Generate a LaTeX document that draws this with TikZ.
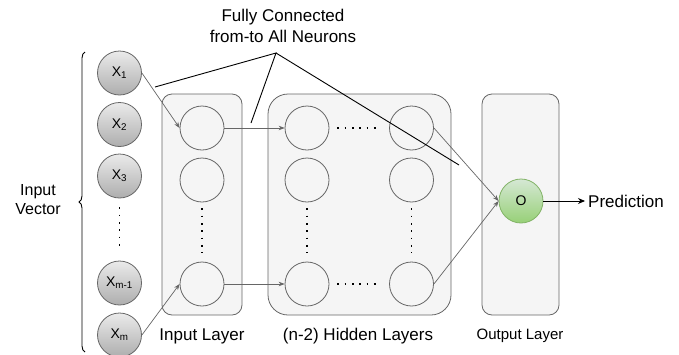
\documentclass[tikz,border=0pt]{standalone}
\usepackage{fontspec}
\setmainfont{Liberation Sans}
\usetikzlibrary{arrows.meta,decorations.pathreplacing}
\definecolor{boxfill}{HTML}{F5F5F5}
\definecolor{boxline}{HTML}{666666}
\definecolor{outtop}{HTML}{D5E8D4}
\definecolor{outbot}{HTML}{97D077}
\definecolor{outline}{HTML}{82B366}
\begin{document}
\begin{tikzpicture}[x=1pt,y=-1pt,
    layerbox/.style={draw=boxline,fill=boxfill,line width=0.8pt,rounded corners=10pt,inner sep=0pt},
    neuron/.style={draw=boxline,fill=boxfill,circle,line width=0.8pt,minimum size=44pt,inner sep=0pt},
    invec/.style={neuron,top color=black!8,bottom color=black!32,font=\fontsize{14}{16}\selectfont},
    outneuron/.style={neuron,draw=outline,top color=outtop,bottom color=outbot,font=\fontsize{14}{16}\selectfont},
    link/.style={->,>={Stealth[length=6pt,width=4.5pt,inset=2pt]},draw=boxline,line width=0.7pt},
    dots/.style={line width=1.7pt,dash pattern=on 1.7pt off 5.6pt},
    lbl/.style={font=\fontsize{17}{21}\selectfont,align=center}]
    \useasboundingbox (0,0) rectangle (679,354);
    % layer boxes
    \node[layerbox,minimum width=80pt,minimum height=221pt] at (202,204.5) (inbox) {};
    \node[layerbox,rounded corners=20pt,minimum width=183pt,minimum height=221pt] at (359.5,204.5) (hidbox) {};
    \node[layerbox,minimum width=77pt,minimum height=221pt] at (520.5,204.5) (outbox) {};
    % input vector
    \node[invec] at (119.5,73) (x1) {X\textsubscript{1}};
    \node[invec] at (119.5,124.5) (x2) {X\textsubscript{2}};
    \node[invec] at (119.5,176) (x3) {X\textsubscript{3}};
    \node[invec] at (119.5,283) (xm1) {X\textsubscript{m-1}};
    \node[invec] at (119.5,335) (xm) {X\textsubscript{m}};
    \draw[dots,shorten <=9pt,shorten >=11pt] (x3.south)--(xm1.north);
    % input layer
    \node[neuron] at (202,128) (i1) {};
    \node[neuron] at (202,180) (i2) {};
    \node[neuron] at (202,284) (i3) {};
    \draw[dots,shorten <=6pt,shorten >=9pt] (i2.south)--(i3.north);
    % hidden layers
    \node[neuron] at (307,128) (hl1) {};
    \node[neuron] at (307,180) (hl2) {};
    \node[neuron] at (307,284) (hl3) {};
    \node[neuron] at (411.5,128) (hr1) {};
    \node[neuron] at (411.5,180) (hr2) {};
    \node[neuron] at (411.5,284) (hr3) {};
    \draw[dots,shorten <=6pt,shorten >=9pt] (hl2.south)--(hl3.north);
    \draw[dots,shorten <=6pt,shorten >=9pt] (hr2.south)--(hr3.north);
    \draw[dots,shorten <=8pt,shorten >=8pt] (hl1.east)--(hr1.west);
    \draw[dots,shorten <=8pt,shorten >=8pt] (hl3.east)--(hr3.west);
    % output layer
    \node[outneuron] at (521,201) (o) {O};
    \node[lbl,anchor=west,inner sep=3pt] at (585,201) (pred) {Prediction};
    % connections
    \draw[link] (x1.east)--(i1.west);
    \draw[link] (xm.east)--(i3.west);
    \draw[link] (i1.east)--(hl1.west);
    \draw[link] (i3.east)--(hl3.west);
    \draw[link] (hr1.east)--(o.west);
    \draw[link] (hr3.east)--(o.west);
    \draw[->,>={Stealth[length=7pt,width=6pt]},line width=0.9pt] (o.east)--(pred.west);
    % brace and captions
    \coordinate (bbot) at (85,352);
    \coordinate (btop) at (85,52);
    \draw[line width=0.9pt,decorate,decoration={brace,amplitude=6pt}] (bbot)--(btop);
    \node[lbl,font=\fontsize{16}{19}\selectfont] at (38,200) (vec) {Input\\Vector};
    \node[lbl] at (202,336) (inlbl) {Input Layer};
    \node[lbl] at (358,336) (hidlbl) {(n-2) Hidden Layers};
    \node[lbl,font=\fontsize{15}{18}\selectfont] at (520,336) (outlbl) {Output Layer};
    % fully connected callout
    \node[lbl] at (283,26) (fc) {Fully Connected\\from-to All Neurons};
    \coordinate (fctip) at (276,53);
    \coordinate (fca) at (155,87);
    \coordinate (fcb) at (251,123);
    \coordinate (fcc) at (459,165);
    \draw[line width=0.9pt] (fca)--(fctip)--(fcb);
    \draw[line width=0.9pt] (fctip)--(fcc);
\end{tikzpicture}
\end{document}
